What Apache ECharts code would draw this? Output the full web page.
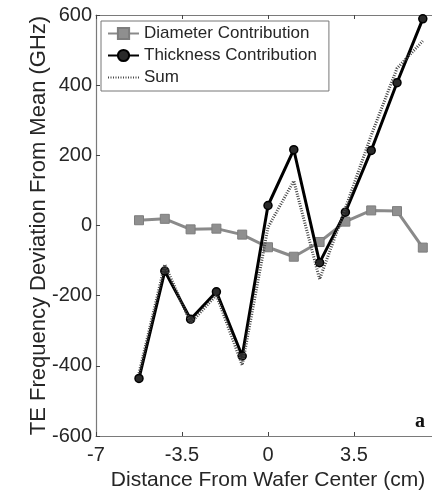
<!DOCTYPE html>
<html>
<head>
<meta charset="utf-8">
<script src="https://cdn.jsdelivr.net/npm/echarts@6/dist/echarts.min.js"></script>
<style>
  html, body { margin: 0; padding: 0; overflow: hidden; background: #fff; }
  #chart { width: 440px; height: 491px; }
</style>
</head>
<body>
<div id="chart"></div>
<script>
// Measurement positions across the wafer (cm)
const positions = [-5.25, -4.2, -3.15, -2.1, -1.05, 0, 1.05, 2.1, 3.15, 4.2, 5.25, 6.3];
// Frequency deviation contributions (GHz)
const diameterContribution = [15, 19, -11, -9, -26, -62, -89, -47, 11, 43, 41, -63];
const thicknessContribution = [-436, -130, -267, -189, -372, 57, 216, -106, 38, 214, 407, 589];
const sumContribution = [-421, -111, -278, -198, -398, -5, 127, -153, 49, 257, 448, 526];
// Axis ticks
const xTicks = { min: -7, max: 7, step: 3.5 };
const yTicks = { min: -600, max: 600, step: 200 };

const pairs = (ys) => positions.map((x, i) => [x, ys[i]]);

const font = 'Liberation Sans, Arial, sans-serif';
const axisGrey = '#7a7a7a';
const textDark = '#262626';

const chart = echarts.init(document.getElementById('chart'), null, { renderer: 'canvas' });

const xBase = {
  type: 'value',
  min: xTicks.min, max: xTicks.max, interval: xTicks.step,
  axisLine: { show: true, onZero: false, lineStyle: { color: axisGrey, width: 1.2 } },
  axisTick: { show: true, inside: true, length: 4, lineStyle: { color: '#444' } },
  splitLine: { show: false }
};

chart.setOption({
  animation: false,
  backgroundColor: '#fff',
  grid: { left: 96, right: 0, top: 15, bottom: 55, containLabel: false, outerBoundsMode: 'none' },
  legend: {
    orient: 'vertical',
    left: 101, top: 21,
    padding: [4, 12, 5, 6],
    itemWidth: 31, itemHeight: 14, itemGap: 5,
    backgroundColor: '#fff',
    borderColor: '#777', borderWidth: 1, borderRadius: 0,
    textStyle: { fontFamily: font, fontSize: 17, color: textDark },
    data: [
      'Diameter Contribution',
      'Thickness Contribution',
      { name: 'Sum', itemStyle: { opacity: 0 } }
    ]
  },
  xAxis: [
    Object.assign({}, xBase, {
      position: 'bottom',
      name: 'Distance From Wafer Center (cm)',
      nameLocation: 'middle', nameGap: 31,
      nameTextStyle: { fontFamily: font, fontSize: 21, color: textDark },
      axisLabel: { fontFamily: font, fontSize: 20, color: textDark, margin: 9, showMaxLabel: false }
    }),
    Object.assign({}, xBase, {
      position: 'top',
      axisLabel: { show: false }
    })
  ],
  yAxis: {
    type: 'value',
    min: yTicks.min, max: yTicks.max, interval: yTicks.step,
    name: 'TE Frequency Deviation From Mean (GHz)',
    nameLocation: 'middle', nameGap: 46, nameRotate: 90, nameMoveOverlap: false,
    nameTextStyle: { fontFamily: font, fontSize: 22, color: textDark },
    axisLine: { show: true, onZero: false, lineStyle: { color: axisGrey, width: 1.2 } },
    axisTick: { show: true, inside: true, length: 4, lineStyle: { color: '#444' } },
    axisLabel: { fontFamily: font, fontSize: 20, color: textDark, margin: 4 },
    splitLine: { show: false }
  },
  series: [
    {
      name: 'Diameter Contribution',
      type: 'line',
      data: pairs(diameterContribution),
      symbol: 'rect', symbolSize: 9,
      lineStyle: { color: '#8a8a8a', width: 3 },
      itemStyle: { color: '#8f8f8f', borderColor: '#7d7d7d', borderWidth: 1 },
      z: 2
    },
    {
      name: 'Thickness Contribution',
      type: 'line',
      data: pairs(thicknessContribution),
      symbol: 'circle', symbolSize: 8,
      lineStyle: { color: '#000', width: 3 },
      itemStyle: { color: '#2a2a2a', borderColor: '#000', borderWidth: 1.5 },
      z: 3
    },
    {
      name: 'Sum',
      type: 'line',
      data: pairs(sumContribution),
      symbol: 'none',
      lineStyle: { color: '#444', width: 3, type: [1, 1.5] },
      itemStyle: { color: '#444' },
      z: 4
    }
  ],
  graphic: [
    {
      type: 'text',
      left: 415, top: 412,
      style: {
        text: 'a',
        font: 'bold 20px "Liberation Serif", "Times New Roman", serif',
        fill: '#111'
      }
    }
  ]
});
</script>
</body>
</html>
